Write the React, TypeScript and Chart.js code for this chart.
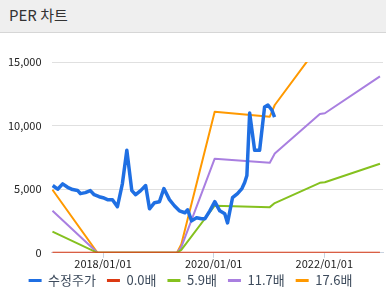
import React, { useEffect, useRef } from "react";
import { Chart, registerables } from "chart.js";

Chart.register(...registerables);

// Adjusted price (수정주가): dates as fractional years, values in won
const priceDates = [2017.09, 2017.18, 2017.27, 2017.36, 2017.45, 2017.54, 2017.59, 2017.68, 2017.77, 2017.84, 2017.93, 2018.0, 2018.08, 2018.17, 2018.26, 2018.35, 2018.43, 2018.52, 2018.59, 2018.68, 2018.77, 2018.84, 2018.93, 2019.02, 2019.1, 2019.2, 2019.29, 2019.38, 2019.48, 2019.53, 2019.6, 2019.69, 2019.78, 2019.84, 2019.93, 2020.02, 2020.11, 2020.2, 2020.25, 2020.34, 2020.43, 2020.51, 2020.56, 2020.6, 2020.65, 2020.74, 2020.83, 2020.92, 2020.98, 2021.05, 2021.1];
const priceValues = [5290, 5000, 5420, 5150, 4970, 4900, 4650, 4730, 4890, 4570, 4410, 4330, 4180, 4180, 3620, 5440, 8060, 4890, 4570, 4890, 5290, 3460, 3940, 4020, 5050, 4180, 3700, 3300, 3150, 3380, 2510, 2750, 2670, 2670, 3300, 4020, 3300, 3070, 2350, 4330, 4650, 5050, 5520, 6080, 10990, 8060, 8060, 11470, 11620, 11230, 10670];

// PER band lines
const perDates = [2017.086, 2017.9, 2019.336, 2019.415, 2020.018, 2021.014, 2021.104, 2021.919, 2022.009, 2023.005];
const per00 = [0, 0, 0, 0, 0, 0, 0, 0, 0, 0];
const per59 = [1660, 0, 0, 224, 3700, 3590, 3910, 5500, 5550, 7000];
const per117 = [3300, 0, 0, 444, 7400, 7080, 7800, 10910, 10970, 13870];
const per176 = [4960, 0, 0, 670, 11090, 10700, 11620, 16400, 16500, 20880];

const seriesLabels = ["수정주가", "0.0배", "5.9배", "11.7배", "17.6배"];
const seriesColors = ["#1f6fe3", "#dc3912", "#85c11f", "#a97fe0", "#ff9900"];
const xTickYears = [2018, 2020, 2022];
const yTicks = [0, 5000, 10000, 15000];

const FONT = "'Noto Sans CJK KR', 'Noto Sans', sans-serif";

export default function App() {
  const ref = useRef<HTMLCanvasElement>(null);

  useEffect(() => {
    document.body.style.margin = "0";
    const ctx = ref.current!;
    const toPts = (xs: number[], ys: number[]) => xs.map((x, i) => ({ x, y: ys[i] }));
    const allSeries = [
      toPts(priceDates, priceValues),
      toPts(perDates, per00),
      toPts(perDates, per59),
      toPts(perDates, per117),
      toPts(perDates, per176),
    ];
    const legendShift = {
      id: "legendShift",
      afterLayout(chart: any) {
        const lg = chart.legend;
        if (lg) {
          lg.top -= 6;
          lg.bottom -= 6;
        }
      },
    };
    const chart = new Chart(ctx, {
      type: "line",
      data: {
        datasets: allSeries.map((d, i) => ({
          label: seriesLabels[i],
          data: d,
          borderColor: seriesColors[i],
          backgroundColor: seriesColors[i],
          borderWidth: i === 0 ? 3.5 : 2,
          pointRadius: 0,
          tension: 0,
          borderJoinStyle: "round" as const,
        })),
      },
      plugins: [legendShift],
      options: {
        animation: false,
        responsive: true,
        maintainAspectRatio: false,
        layout: { autoPadding: false, padding: { left: -2, right: 3, top: 29, bottom: -4 } },
        plugins: {
          tooltip: { enabled: false },
          legend: {
            position: "bottom",
            labels: {
              font: { family: FONT, size: 13 },
              color: "#3d4b5c",
              boxWidth: 13,
              boxHeight: 3,
              padding: 11,
              generateLabels: (c: any) =>
                c.data.datasets.map((ds: any, i: number) => ({
                  text: ds.label,
                  fillStyle: seriesColors[i],
                  strokeStyle: seriesColors[i],
                  lineWidth: 0,
                  hidden: false,
                  datasetIndex: i,
                  fontColor: "#3d4b5c",
                })),
            },
          },
        },
        scales: {
          x: {
            type: "linear",
            min: 2017.07,
            max: 2023.06,
            afterBuildTicks: (axis: any) => {
              axis.ticks = xTickYears.map((v) => ({ value: v }));
            },
            ticks: {
              font: { family: FONT, size: 11 },
              color: "#222",
              padding: -1,
              maxRotation: 0,
              callback: (v: any) => `${v}/01/01`,
            },
            grid: { drawOnChartArea: false, tickLength: 5, color: "#c9d3e0" },
            border: { color: "#c9d3e0" },
          },
          y: {
            min: 0,
            max: 15000,
            afterBuildTicks: (axis: any) => {
              axis.ticks = yTicks.map((v) => ({ value: v }));
            },
            ticks: {
              font: { family: FONT, size: 11 },
              color: "#222",
              padding: 10,
              callback: (v: any) => Number(v).toLocaleString("en-US"),
            },
            grid: { drawTicks: false, color: "#e0e0e0", lineWidth: 1 },
            border: { display: false },
          },
        },
      },
    });
    return () => chart.destroy();
  }, []);

  return (
    <div style={{ width: 386, height: 299, background: "#fff", overflow: "hidden" }}>
      <div
        style={{
          height: 32,
          lineHeight: "30px",
          background: "#efefef",
          borderBottom: "1px solid #d6d6d6",
          paddingLeft: 9,
          fontFamily: FONT,
          fontSize: 15,
          color: "#333",
          boxSizing: "content-box",
        }}
      >
        PER 차트
      </div>
      <div style={{ position: "relative", width: 386, height: 266 }}>
        <canvas ref={ref} />
      </div>
    </div>
  );
}
